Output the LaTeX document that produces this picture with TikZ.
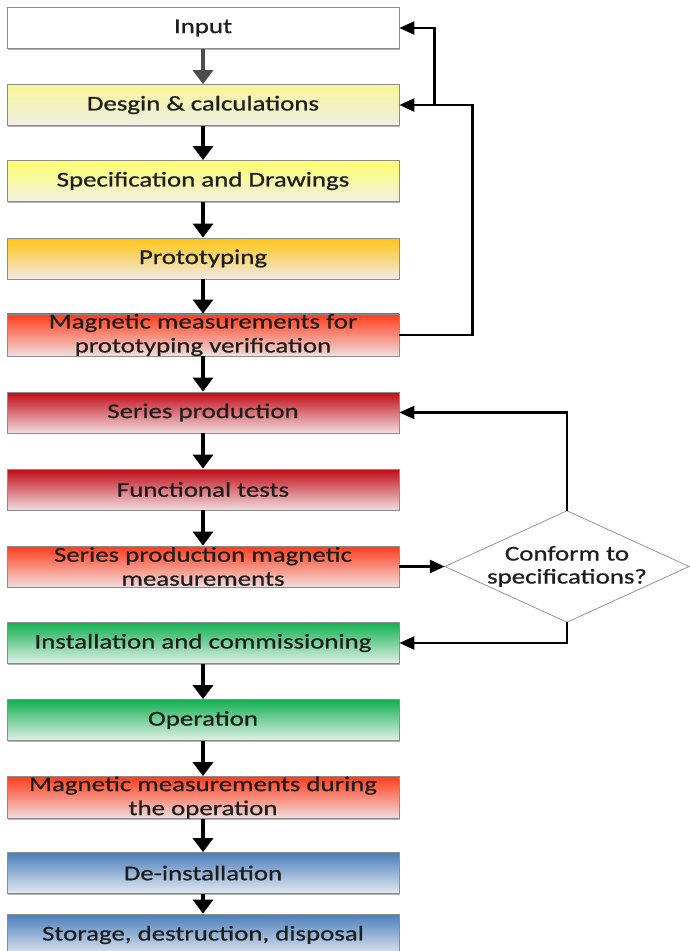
\documentclass[tikz,border=0pt]{standalone}
\usepackage{fontspec}
\setmainfont{Carlito}[FakeStretch=1.28, FakeBold=0.8]
\usetikzlibrary{arrows.meta,shadows,calc}

% stage colours: strong tone at the top fading to a pale tone at the bottom
\definecolor{boxline}{HTML}{8C8C8C}
\definecolor{textdark}{HTML}{1E1E1E}
\definecolor{arrowgray}{HTML}{4D4D4D}
\definecolor{designtop}{HTML}{F8F598}
\definecolor{designbot}{HTML}{F0EFE4}
\definecolor{spectop}{HTML}{FFFF6E}
\definecolor{specbot}{HTML}{F1F0E2}
\definecolor{prototop}{HTML}{FFC414}
\definecolor{protobot}{HTML}{F1EAE6}
\definecolor{magtop}{HTML}{FF3C1A}
\definecolor{magbot}{HTML}{F1DEDE}
\definecolor{redtop}{HTML}{C20A16}
\definecolor{redbot}{HTML}{F1DDDF}
\definecolor{greentop}{HTML}{12B050}
\definecolor{greenbot}{HTML}{E2F1E8}
\definecolor{bluetop}{HTML}{4A7EBB}
\definecolor{bluebot}{HTML}{E3E9F1}

\begin{document}
\begin{tikzpicture}[x=1pt,y=-1pt,
  stage/.style={draw=boxline, line width=0.8pt, minimum width=392pt,
    minimum height=41pt, inner sep=0pt, align=center, text=textdark,
    font=\fontsize{21}{24}\selectfont,
    drop shadow={shadow xshift=1.3pt, shadow yshift=-1.3pt, fill=black, opacity=0.3}},
  shade/.style 2 args={top color=#1, middle color=#1!70!#2, bottom color=#2},
  decision/.style={rectangle, minimum width=244pt, minimum height=111pt,
    inner sep=0pt, align=center, text=textdark,
    font=\fontsize{21}{23}\selectfont},
  rhomb/.style={draw=boxline, line width=0.7pt, fill=white},
  flow/.style={line width=3.5pt, draw=black, -{Triangle[length=14pt,width=20pt]}},
  feedback/.style={line width=2.5pt, draw=black, line join=miter,
    -{Triangle[length=15pt,width=13pt]}}
]
\useasboundingbox (0,0) rectangle (690,951);
\clip (0,0) rectangle (690,951);

% process stages
\node[stage, fill=white] (input) at (203,28) {Input};
\node[stage, shade={designtop}{designbot}] (design) at (203,105) {Desgin \& calculations};
\node[stage, shade={spectop}{specbot}] (spec) at (203,181) {Specification and Drawings};
\node[stage, shade={prototop}{protobot}] (proto) at (203,258.5) {Prototyping};
\node[stage, shade={magtop}{magbot}] (magproto) at (203,335) {Magnetic measurements for\\prototyping verification};
\node[stage, shade={redtop}{redbot}] (series) at (203,412.5) {Series production};
\node[stage, shade={redtop}{redbot}] (functional) at (203,489.5) {Functional tests};
\node[stage, shade={magtop}{magbot}] (sermag) at (203,566.5) {Series production magnetic\\measurements};
\node[stage, shade={greentop}{greenbot}] (install) at (203,643) {Installation and commissioning};
\node[stage, shade={greentop}{greenbot}] (operation) at (203,720) {Operation};
\node[stage, shade={magtop}{magbot}] (magop) at (203,797.5) {Magnetic measurements during\\the operation};
\node[stage, shade={bluetop}{bluebot}] (deinst) at (203,873) {De-installation};
\node[stage, shade={bluetop}{bluebot}, minimum height=42pt] (storage) at (203,935) {Storage, destruction, disposal};

% quality check: a rhombus spanning the node's box
\node[decision] (check) at (567,566.5) {};
\draw[rhomb] (check.north) -- (check.east) -- (check.south) -- (check.west) -- cycle;
\node[decision] at (check.center) {Conform to\\specifications?};

% main flow
\draw[flow, draw=arrowgray] (input) -- (design);
\foreach \a/\b in {design/spec, spec/proto, proto/magproto, magproto/series,
                   series/functional, functional/sermag, install/operation,
                   operation/magop, magop/deinst, deinst/storage}
  \draw[flow] (\a) -- (\b);

% feedback loops
\draw[feedback] (magproto.east) -- ++(73,0) |- (design.east);
\coordinate (split) at ($(design.east)+(35,0)$);
\draw[feedback] (split) |- (input.east);
\draw[feedback] (sermag.east) -- (check.west);
\draw[feedback] (check.north) |- (series.east);
\draw[feedback] (check.south) |- (install.east);
\end{tikzpicture}
\end{document}
